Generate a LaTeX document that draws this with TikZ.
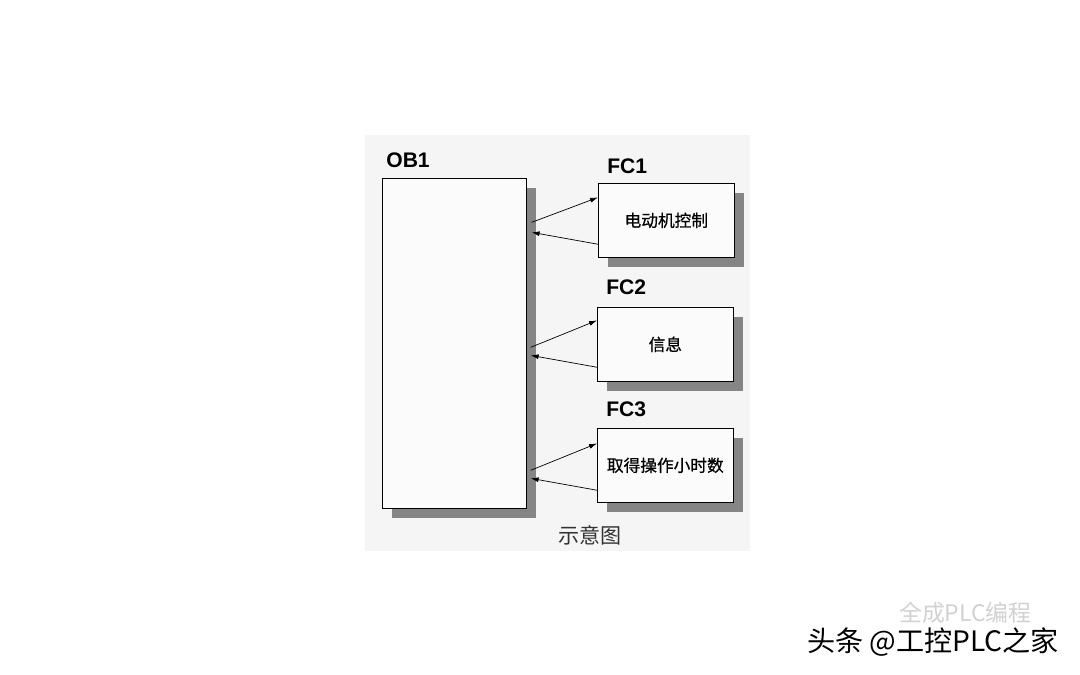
\documentclass[tikz,border=0pt]{standalone}
\usepackage{fontspec}
\setmainfont{Liberation Sans}
\newfontfamily\cjk{Noto Sans CJK SC}
\newfontfamily\cjkmid[FakeBold=0.6]{Noto Sans CJK SC}
\usetikzlibrary{arrows.meta,shadows}

\definecolor{panelgray}{HTML}{F5F5F5}
\definecolor{boxfill}{HTML}{FBFBFB}
\definecolor{shadowgray}{HTML}{858585}

\tikzset{
  block/.style={draw=black, fill=boxfill, inner sep=0pt,
    drop shadow={shadow xshift=5.7pt, shadow yshift=-5.7pt, fill=shadowgray, opacity=1}},
  fcbox/.style={block, minimum width=2.72cm, minimum height=1.48cm, font=\cjkmid\fontsize{9.5}{11}\selectfont},
  title/.style={font=\bfseries\fontsize{12}{14}\selectfont, inner sep=0pt, anchor=base west},
  call/.style={-{Latex[length=4.5pt, width=2.8pt]}, thin}
}

\begin{document}
\begin{tikzpicture}[x=0.02cm, y=-0.02cm]
  % Page and grey panel
  \useasboundingbox[fill=white] (0,0) rectangle (1080,675);
  \fill[panelgray] (365,135) rectangle (750,551);

  % Main block OB1
  \node[block, anchor=north west, minimum width=2.88cm, minimum height=6.6cm] (ob1) at (382,178) {};
  \node[title] (ob1t) at ([shift={(4,-10)}]ob1.north west) {OB1};

  % Called functions
  \node[fcbox, anchor=north west] (fc1) at (598,183) {电动机控制};
  \node[fcbox, anchor=north west] (fc2) at (597,307) {信息};
  \node[fcbox, anchor=north west] (fc3) at (597,428) {取得操作小时数};
  \node[title] (fc1t) at ([shift={(9,-9)}]fc1.north west) {FC1};
  \node[title] (fc2t) at ([shift={(9,-12)}]fc2.north west) {FC2};
  \node[title] (fc3t) at ([shift={(9,-11)}]fc3.north west) {FC3};

  % Call and return arrows
  \draw[call] ([shift={(5,2)}]ob1.east |- fc1.west) -- ([yshift=23*0.567pt]fc1.west);
  \draw[call] ([yshift=-24*0.567pt]fc1.west) -- ([shift={(5,12)}]ob1.east |- fc1.west);
  \draw[call] ([shift={(4,3)}]ob1.east |- fc2.west) -- ([yshift=24*0.567pt]fc2.west);
  \draw[call] ([yshift=-23*0.567pt]fc2.west) -- ([shift={(4,11)}]ob1.east |- fc2.west);
  \draw[call] ([shift={(4,5)}]ob1.east |- fc3.west) -- ([yshift=22*0.567pt]fc3.west);
  \draw[call] ([yshift=-25*0.567pt]fc3.west) -- ([shift={(4,13)}]ob1.east |- fc3.west);

  % Caption
  \node[font=\cjk\fontsize{12}{14}\selectfont, text=black!80] (cap) at (590,535) {示意图};

  % Watermarks
  \node[font=\cjk\fontsize{13}{15}\selectfont, text=black!18, anchor=west] (wm1) at (893,613) {全成PLC编程};
  \node[font=\cjk\fontsize{16}{18}\selectfont, anchor=west] (wm2) at (801,642) {头条 @工控PLC之家};
\end{tikzpicture}
\end{document}
